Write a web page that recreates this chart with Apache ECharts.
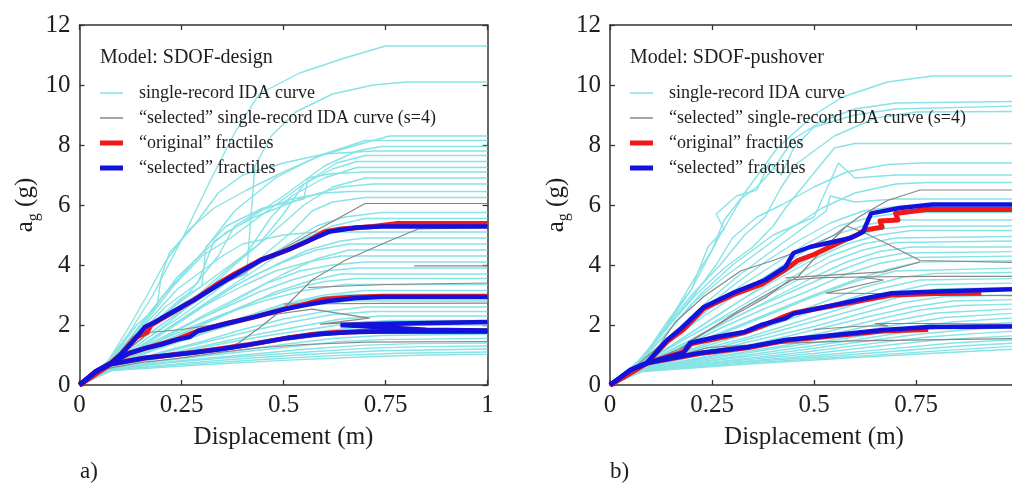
<!DOCTYPE html>
<html>
<head>
<meta charset="utf-8">
<script src="https://cdn.jsdelivr.net/npm/echarts@6/dist/echarts.min.js"></script>
<style>
html,body{margin:0;padding:0;background:#fff;}
#chart{width:1012px;height:486px;}
</style>
</head>
<body>
<div id="chart"></div>
<script>
// tick values of both panels
var xTicks = [0, 0.25, 0.5, 0.75, 1];
var yTicks = [0, 2, 4, 6, 8, 10, 12];

var panelTitles = ['Model: SDOF-design', 'Model: SDOF-pushover'];
var panelTags = ['a)', 'b)'];
var legendNames = ['single-record IDA curve', '\u201Cselected\u201D single-record IDA curve (s=4)', '\u201Coriginal\u201D fractiles', '\u201Cselected\u201D fractiles'];

// a) SDOF-design : single-record IDA curves [displacement m, ag g]
var leftIda = [
 [[0,0],[0.07,0.8],[0.12,1.7],[0.18,3.0],[0.26,5.1],[0.32,6.8],[0.38,8.4],[0.44,9.7],[0.54,10.4],[0.65,10.9],[0.75,11.3],[1,11.3]],
 [[0,0],[0.08,0.8],[0.15,1.7],[0.25,2.7],[0.33,3.3],[0.41,3.7],[0.42,5.6],[0.43,7.3],[0.47,8.3],[0.53,9.1],[0.62,9.7],[0.72,10.0],[0.8,10.1],[1,10.1]],
 [[0,0],[0.07,0.75],[0.12,1.5],[0.2,2.9],[0.3,4.4],[0.38,5.8],[0.48,6.9],[0.58,7.6],[0.68,8.0],[0.76,8.3],[1,8.3]],
 [[0,0],[0.07,0.8],[0.12,1.9],[0.17,3.1],[0.21,4.1],[0.27,5.2],[0.33,5.9],[0.41,6.5],[0.5,7.1],[0.6,7.7],[0.7,8.15],[1,8.15]],
 [[0,0],[0.08,0.8],[0.14,1.6],[0.21,2.6],[0.29,3.4],[0.33,4.8],[0.4,5.4],[0.5,6.3],[0.6,7.3],[0.68,7.8],[0.74,7.95],[1,7.95]],
 [[0,0],[0.08,0.9],[0.14,2.0],[0.19,2.6],[0.2,3.6],[0.22,4.4],[0.28,5.3],[0.34,6.4],[0.4,7.0],[0.5,7.4],[0.6,7.7],[0.72,7.8],[1,7.8]],
 [[0,0],[0.08,0.8],[0.15,1.9],[0.23,3.3],[0.3,4.3],[0.37,4.9],[0.45,5.7],[0.55,6.7],[0.63,7.4],[0.7,7.65],[1,7.65]],
 [[0,0],[0.07,0.7],[0.14,1.5],[0.2,2.3],[0.28,3.1],[0.36,3.9],[0.44,4.7],[0.5,5.7],[0.55,6.7],[0.62,7.2],[0.68,7.45],[1,7.45]],
 [[0,0],[0.08,0.75],[0.15,1.5],[0.25,2.5],[0.34,3.6],[0.41,4.4],[0.47,5.6],[0.52,6.3],[0.6,6.9],[0.68,7.25],[1,7.25]],
 [[0,0],[0.08,0.8],[0.16,1.8],[0.25,2.9],[0.3,3.3],[0.31,4.6],[0.36,5.3],[0.45,5.9],[0.55,6.2],[0.56,6.9],[0.62,7.05],[0.7,7.1],[1,7.1]],
 [[0,0],[0.07,0.65],[0.14,1.3],[0.22,2.1],[0.3,3.0],[0.38,4.0],[0.45,4.8],[0.55,6.0],[0.62,6.6],[0.7,6.9],[1,6.9]],
 [[0,0],[0.08,0.85],[0.14,1.8],[0.19,2.7],[0.24,3.6],[0.31,4.5],[0.36,5.1],[0.43,5.6],[0.54,6.2],[0.64,6.6],[0.72,6.7],[1,6.7]],
 [[0,0],[0.07,0.7],[0.13,1.4],[0.2,2.2],[0.27,3.1],[0.34,4.3],[0.38,5.3],[0.44,5.8],[0.52,6.2],[0.6,6.4],[0.66,6.45],[1,6.45]],
 [[0,0],[0.08,0.7],[0.16,1.5],[0.25,2.3],[0.35,3.3],[0.45,4.3],[0.52,5.1],[0.57,5.8],[0.62,6.1],[0.7,6.25],[1,6.25]],
 [[0,0],[0.07,0.65],[0.13,1.3],[0.2,2.0],[0.3,2.9],[0.4,3.8],[0.5,4.6],[0.58,5.3],[0.65,5.6],[0.74,5.75],[1,5.75]],
 [[0,0],[0.08,0.7],[0.16,1.4],[0.25,2.2],[0.35,3.1],[0.45,4.0],[0.54,4.8],[0.62,5.3],[0.7,5.55],[1,5.55]],
 [[0,0],[0.07,0.7],[0.12,1.4],[0.18,2.3],[0.24,3.2],[0.3,3.8],[0.35,4.3],[0.4,4.7],[0.5,5.0],[0.58,5.1],[1,5.1]],
 [[0,0],[0.08,0.7],[0.18,1.5],[0.28,2.4],[0.38,3.3],[0.48,4.0],[0.56,4.5],[0.64,4.8],[0.7,4.9],[1,4.9]],
 [[0,0],[0.07,0.65],[0.15,1.3],[0.24,2.1],[0.33,2.9],[0.42,3.6],[0.5,4.1],[0.58,4.5],[0.66,4.7],[1,4.7]],
 [[0,0],[0.08,0.7],[0.2,1.5],[0.3,2.3],[0.4,3.0],[0.5,3.7],[0.58,4.2],[0.66,4.5],[1,4.5]],
 [[0,0],[0.07,0.6],[0.14,1.2],[0.22,1.9],[0.3,2.6],[0.4,3.3],[0.48,3.8],[0.56,4.1],[0.64,4.3],[1,4.3]],
 [[0,0],[0.08,0.7],[0.18,1.4],[0.28,2.1],[0.38,2.8],[0.46,3.4],[0.54,3.8],[0.62,4.0],[0.7,4.1],[1,4.1]],
 [[0,0],[0.07,0.6],[0.16,1.3],[0.26,2.0],[0.36,2.6],[0.44,3.1],[0.52,3.5],[0.6,3.8],[0.68,3.9],[1,3.9]],
 [[0,0],[0.08,0.65],[0.2,1.4],[0.3,2.0],[0.4,2.6],[0.48,3.1],[0.56,3.45],[0.64,3.7],[1,3.7]],
 [[0,0],[0.07,0.6],[0.18,1.3],[0.28,1.9],[0.36,2.4],[0.44,2.85],[0.52,3.2],[0.6,3.45],[0.68,3.55],[1,3.55]],
 [[0,0],[0.08,0.65],[0.15,1.2],[0.25,1.8],[0.35,2.35],[0.45,2.8],[0.55,3.15],[0.65,3.35],[1,3.35]],
 [[0,0],[0.07,0.6],[0.2,1.3],[0.3,1.8],[0.4,2.25],[0.5,2.7],[0.6,3.0],[0.7,3.15],[1,3.15]],
 [[0,0],[0.08,0.6],[0.18,1.15],[0.28,1.6],[0.38,2.1],[0.48,2.55],[0.56,2.85],[0.64,3.0],[1,3.0]],
 [[0,0],[0.07,0.6],[0.16,1.1],[0.26,1.55],[0.36,1.95],[0.46,2.35],[0.56,2.65],[0.66,2.8],[1,2.8]],
 [[0,0],[0.08,0.6],[0.2,1.1],[0.3,1.45],[0.4,1.85],[0.5,2.2],[0.6,2.45],[0.7,2.6],[1,2.6]],
 [[0,0],[0.07,0.55],[0.18,1.0],[0.3,1.4],[0.42,1.8],[0.52,2.1],[0.62,2.35],[0.72,2.45],[1,2.45]],
 [[0,0],[0.08,0.6],[0.2,1.0],[0.32,1.35],[0.44,1.7],[0.54,1.95],[0.64,2.2],[0.74,2.3],[1,2.3]],
 [[0,0],[0.07,0.55],[0.2,0.95],[0.32,1.3],[0.44,1.6],[0.56,1.85],[0.66,2.05],[0.76,2.15],[1,2.15]],
 [[0,0],[0.08,0.6],[0.2,0.95],[0.34,1.25],[0.48,1.55],[0.6,1.8],[0.7,1.95],[0.8,2.0],[1,2.0]],
 [[0,0],[0.07,0.55],[0.2,0.9],[0.34,1.2],[0.48,1.45],[0.6,1.65],[0.72,1.8],[0.82,1.85],[1,1.85]],
 [[0,0],[0.08,0.55],[0.22,0.85],[0.36,1.1],[0.5,1.35],[0.62,1.55],[0.74,1.65],[1,1.7]],
 [[0,0],[0.07,0.5],[0.2,0.8],[0.36,1.05],[0.5,1.25],[0.64,1.45],[0.76,1.52],[1,1.55]],
 [[0,0],[0.08,0.55],[0.24,0.8],[0.4,1.0],[0.56,1.2],[0.7,1.33],[0.82,1.38],[1,1.4]],
 [[0,0],[0.07,0.5],[0.22,0.75],[0.4,0.95],[0.56,1.1],[0.7,1.22],[0.84,1.28],[1,1.3]],
 [[0,0],[0.08,0.5],[0.25,0.72],[0.42,0.9],[0.6,1.05],[0.74,1.14],[1,1.2]],
 [[0,0],[0.07,0.48],[0.25,0.68],[0.45,0.85],[0.62,0.98],[0.78,1.06],[1,1.1]],
 [[0,0],[0.08,0.48],[0.28,0.66],[0.5,0.82],[0.7,0.94],[0.85,1.0],[1,1.02]]
];
// a) "selected" records (s=4), with their extra flat pieces
var leftSel = [
 [[0,0],[0.06,0.6],[0.1,1.1],[0.13,1.6],[0.2,2.25],[0.3,3.0],[0.4,3.7],[0.5,4.55],[0.6,5.3],[0.7,6.05],[1,6.05]],
 [[0,0],[0.07,0.6],[0.15,0.9],[0.25,1.05],[0.35,1.2],[0.39,1.4],[0.45,2.0],[0.5,2.55],[0.57,3.5],[0.65,4.15],[0.75,4.75],[0.83,5.2],[1,5.25]],
 [[0,0],[0.07,0.65],[0.12,1.2],[0.17,1.75],[0.25,1.85],[0.35,2.05],[0.45,2.3],[0.57,2.53],[0.71,2.23],[0.59,2.03],[0.7,2.1],[1,2.15]],
 [[0,0],[0.07,0.55],[0.15,0.75],[0.25,0.9],[0.35,1.1],[0.45,1.25],[0.55,1.35],[0.7,1.43],[1,1.45]],
 [[0.56,3.25],[0.75,3.35],[1,3.4]],
 [[0.82,3.97],[1,3.97]],
 [[0.5,2.7],[0.75,2.72],[1,2.73]]
];
// a) fractiles 16/50/84%
var leftOrig = [
 [[0,0],[0.04,0.45],[0.077,0.73],[0.1,1.0],[0.127,1.4],[0.14,1.6],[0.165,1.75],[0.175,2.0],[0.2,2.2],[0.28,2.83],[0.34,3.38],[0.38,3.7],[0.445,4.17],[0.51,4.5],[0.56,4.8],[0.6,5.1],[0.64,5.2],[0.72,5.28],[0.78,5.38],[1,5.38]],
 [[0,0],[0.077,0.73],[0.12,1.05],[0.16,1.22],[0.24,1.52],[0.29,1.8],[0.36,2.05],[0.43,2.27],[0.5,2.52],[0.56,2.72],[0.6,2.86],[0.66,2.92],[0.74,2.96],[1,2.96]],
 [[0,0],[0.077,0.7],[0.16,0.9],[0.28,1.08],[0.41,1.33],[0.51,1.57],[0.57,1.68],[0.62,1.74],[0.7,1.79],[1,1.8]]
];
var leftFrac = [
 [[0,0],[0.04,0.45],[0.077,0.73],[0.1,1.0],[0.127,1.4],[0.14,1.6],[0.16,1.93],[0.185,2.1],[0.23,2.45],[0.28,2.83],[0.36,3.5],[0.445,4.17],[0.51,4.5],[0.56,4.8],[0.614,5.12],[0.68,5.25],[0.74,5.28],[1,5.28]],
 [[0,0],[0.04,0.45],[0.077,0.73],[0.12,1.05],[0.16,1.22],[0.2,1.35],[0.24,1.52],[0.27,1.6],[0.29,1.8],[0.36,2.05],[0.43,2.27],[0.5,2.52],[0.56,2.68],[0.61,2.8],[0.68,2.9],[0.74,2.93],[1,2.93]],
 [[0,0],[0.04,0.45],[0.077,0.7],[0.16,0.9],[0.28,1.08],[0.35,1.2],[0.41,1.33],[0.51,1.57],[0.59,1.7],[0.66,1.76],[0.74,1.78],[1,1.78]],
 [[0.64,2.0],[0.8,2.05],[1,2.1]],
 [[0.64,2.0],[0.85,1.84],[1,1.82]]
];

// b) SDOF-pushover
var rightIda = [
 [[0,0],[0.07,0.8],[0.12,1.6],[0.2,3.2],[0.27,5.0],[0.33,6.4],[0.41,7.9],[0.5,9.0],[0.57,9.6],[0.68,10.1],[0.79,10.3],[1,10.3]],
 [[0,0],[0.08,0.9],[0.14,2.0],[0.2,3.4],[0.25,4.5],[0.28,5.5],[0.32,6.2],[0.36,6.6],[0.4,7.2],[0.45,8.2],[0.52,8.8],[0.6,9.2],[0.7,9.4],[1,9.45]],
 [[0,0],[0.08,0.9],[0.14,2.1],[0.2,3.2],[0.24,4.6],[0.28,5.2],[0.26,5.7],[0.31,6.3],[0.36,6.5],[0.39,7.4],[0.42,7.0],[0.45,7.9],[0.5,8.6],[0.6,9.0],[0.7,9.2],[1,9.3]],
 [[0,0],[0.07,0.8],[0.13,1.8],[0.2,3.0],[0.27,4.0],[0.33,5.0],[0.38,5.6],[0.42,6.6],[0.46,7.4],[0.55,8.3],[0.65,8.9],[0.75,9.1],[1,9.12]],
 [[0,0],[0.08,0.9],[0.14,1.9],[0.21,3.0],[0.28,3.9],[0.35,4.6],[0.4,5.3],[0.43,5.9],[0.55,7.9],[0.6,8.05],[1,8.05]],
 [[0,0],[0.07,0.8],[0.14,1.9],[0.2,2.9],[0.26,4.0],[0.3,4.9],[0.36,5.6],[0.42,6.0],[0.5,6.6],[0.58,7.1],[0.68,7.35],[0.76,7.4],[1,7.4]],
 [[0,0],[0.08,0.85],[0.15,1.9],[0.22,3.0],[0.3,4.0],[0.4,5.0],[0.5,5.6],[0.52,6.2],[0.56,7.4],[0.6,6.9],[0.7,7.0],[1,7.0]],
 [[0,0],[0.07,0.75],[0.13,1.6],[0.2,2.7],[0.28,3.6],[0.36,4.4],[0.44,5.2],[0.52,5.9],[0.6,6.4],[0.7,6.7],[0.78,6.75],[1,6.75]],
 [[0,0],[0.08,0.8],[0.16,1.8],[0.24,2.8],[0.32,3.7],[0.4,4.5],[0.48,5.3],[0.53,5.8],[0.54,6.3],[0.6,6.1],[0.7,6.2],[1,6.2]],
 [[0,0],[0.07,0.7],[0.14,1.5],[0.22,2.4],[0.3,3.3],[0.38,4.1],[0.46,4.8],[0.54,5.4],[0.62,5.8],[0.7,5.95],[1,5.95]],
 [[0,0],[0.08,0.75],[0.16,1.6],[0.24,2.5],[0.32,3.3],[0.4,4.0],[0.48,4.7],[0.56,5.3],[0.64,5.6],[0.72,5.75],[1,5.75]],
 [[0,0],[0.07,0.7],[0.15,1.5],[0.23,2.3],[0.31,3.0],[0.39,3.7],[0.47,4.4],[0.55,5.0],[0.63,5.35],[0.7,5.5],[1,5.5]],
 [[0,0],[0.08,0.7],[0.17,1.5],[0.26,2.3],[0.34,3.0],[0.42,3.7],[0.5,4.3],[0.58,4.9],[0.66,5.2],[0.74,5.3],[1,5.3]],
 [[0,0],[0.07,0.65],[0.15,1.3],[0.24,2.1],[0.33,2.9],[0.42,3.6],[0.5,4.2],[0.58,4.7],[0.66,5.0],[0.74,5.15],[1,5.15]],
 [[0,0],[0.08,0.7],[0.18,1.5],[0.28,2.3],[0.38,3.1],[0.46,3.7],[0.54,4.3],[0.62,4.7],[0.7,4.9],[1,4.95]],
 [[0,0],[0.07,0.65],[0.16,1.35],[0.26,2.1],[0.36,2.8],[0.46,3.5],[0.54,4.1],[0.62,4.5],[0.7,4.75],[1,4.8]],
 [[0,0],[0.08,0.7],[0.2,1.5],[0.3,2.2],[0.4,2.9],[0.5,3.6],[0.58,4.1],[0.66,4.45],[0.74,4.6],[1,4.6]],
 [[0,0],[0.07,0.6],[0.16,1.25],[0.26,1.95],[0.36,2.6],[0.46,3.2],[0.56,3.8],[0.64,4.2],[0.72,4.4],[1,4.45]],
 [[0,0],[0.08,0.65],[0.18,1.3],[0.28,1.95],[0.38,2.55],[0.48,3.1],[0.58,3.7],[0.66,4.05],[0.74,4.25],[1,4.3]],
 [[0,0],[0.07,0.6],[0.18,1.25],[0.3,1.9],[0.4,2.45],[0.5,3.0],[0.6,3.5],[0.68,3.85],[0.76,4.1],[1,4.15]],
 [[0,0],[0.08,0.65],[0.2,1.3],[0.3,1.85],[0.4,2.4],[0.5,2.95],[0.6,3.45],[0.7,3.8],[1,3.9]],
 [[0,0],[0.07,0.6],[0.2,1.2],[0.32,1.75],[0.42,2.25],[0.52,2.75],[0.62,3.25],[0.72,3.6],[0.8,3.72],[1,3.75]],
 [[0,0],[0.08,0.6],[0.2,1.15],[0.32,1.65],[0.44,2.2],[0.56,2.75],[0.66,3.2],[0.76,3.5],[1,3.55]],
 [[0,0],[0.07,0.55],[0.2,1.1],[0.34,1.6],[0.46,2.1],[0.58,2.6],[0.68,3.05],[0.78,3.35],[1,3.4]],
 [[0,0],[0.08,0.6],[0.22,1.1],[0.36,1.6],[0.48,2.05],[0.6,2.5],[0.7,2.9],[0.8,3.2],[1,3.25]],
 [[0,0],[0.07,0.55],[0.22,1.05],[0.36,1.5],[0.5,1.95],[0.62,2.4],[0.72,2.75],[0.82,2.95],[1,3.0]],
 [[0,0],[0.08,0.55],[0.22,1.0],[0.38,1.45],[0.52,1.9],[0.64,2.3],[0.74,2.6],[0.84,2.8],[1,2.85]],
 [[0,0],[0.07,0.5],[0.24,0.95],[0.4,1.4],[0.54,1.8],[0.66,2.2],[0.76,2.5],[0.86,2.65],[1,2.7]],
 [[0,0],[0.08,0.55],[0.24,0.95],[0.4,1.35],[0.56,1.75],[0.68,2.1],[0.8,2.4],[1,2.55]],
 [[0,0],[0.07,0.5],[0.24,0.9],[0.42,1.3],[0.58,1.7],[0.7,2.0],[0.82,2.25],[1,2.4]],
 [[0,0],[0.08,0.5],[0.25,0.88],[0.42,1.25],[0.6,1.6],[0.72,1.9],[0.84,2.1],[1,2.25]],
 [[0,0],[0.07,0.5],[0.26,0.85],[0.44,1.2],[0.6,1.5],[0.74,1.8],[0.86,1.98],[1,2.1]],
 [[0,0],[0.08,0.5],[0.26,0.82],[0.46,1.15],[0.62,1.45],[0.76,1.7],[0.88,1.85],[1,1.95]],
 [[0,0],[0.07,0.48],[0.28,0.8],[0.48,1.1],[0.64,1.38],[0.78,1.6],[0.9,1.72],[1,1.8]],
 [[0,0],[0.08,0.48],[0.28,0.78],[0.5,1.05],[0.66,1.3],[0.8,1.5],[1,1.65]],
 [[0,0],[0.07,0.46],[0.3,0.76],[0.52,1.0],[0.7,1.22],[0.84,1.4],[1,1.52]],
 [[0,0],[0.08,0.46],[0.3,0.74],[0.54,0.96],[0.72,1.15],[0.86,1.3],[1,1.4]],
 [[0,0],[0.07,0.45],[0.32,0.72],[0.56,0.92],[0.74,1.08],[0.9,1.22],[1,1.3]],
 [[0,0],[0.08,0.45],[0.34,0.7],[0.58,0.9],[0.78,1.05],[1,1.2]]
];
var rightSel = [
 [[0,0],[0.07,0.7],[0.12,1.3],[0.16,2.1],[0.23,2.95],[0.32,3.8],[0.4,4.15],[0.47,4.5],[0.55,5.0],[0.61,5.6],[0.68,6.15],[0.76,6.5],[1,6.5]],
 [[0,0],[0.08,0.7],[0.17,1.2],[0.25,1.9],[0.33,2.6],[0.42,3.3],[0.46,3.6],[0.52,4.5],[0.58,5.3],[0.62,5.1],[0.68,4.7],[0.76,4.15],[1,4.08]],
 [[0,0],[0.08,0.65],[0.16,1.0],[0.2,1.5],[0.3,2.3],[0.38,2.9],[0.44,3.5],[0.52,3.58],[0.61,3.6],[0.67,3.5],[0.53,3.06],[0.65,3.05],[0.8,3.0],[1,2.98]],
 [[0,0],[0.08,0.6],[0.16,0.95],[0.24,1.25],[0.4,1.38],[0.6,1.47],[1,1.55]],
 [[0.43,3.57],[0.67,3.77],[0.76,4.1]],
 [[0.61,3.6],[0.8,3.62],[1,3.62]],
 [[0.5,1.85],[0.6,1.95],[0.68,1.98],[0.65,2.05],[0.8,2.05],[1,2.02]]
];
var rightOrig = [
 [[0,0],[0.09,0.73],[0.14,1.45],[0.18,1.85],[0.23,2.55],[0.3,3.0],[0.37,3.35],[0.43,3.85],[0.46,4.15],[0.5,4.35],[0.57,4.8],[0.605,5.0],[0.625,5.17],[0.667,5.26],[0.662,5.47],[0.706,5.5],[0.7,5.72],[0.776,5.85],[1,5.85]],
 [[0,0],[0.09,0.73],[0.18,1.1],[0.2,1.38],[0.26,1.55],[0.33,1.75],[0.37,1.95],[0.43,2.3],[0.45,2.4],[0.55,2.65],[0.69,3.0],[0.8,3.05],[0.91,3.07]],
 [[0,0],[0.09,0.73],[0.22,1.05],[0.34,1.25],[0.43,1.48],[0.55,1.64],[0.67,1.8],[0.78,1.85]]
];
var rightFrac = [
 [[0,0],[0.05,0.5],[0.09,0.73],[0.14,1.5],[0.17,1.83],[0.23,2.6],[0.3,3.06],[0.38,3.5],[0.43,3.94],[0.45,4.4],[0.49,4.6],[0.59,4.9],[0.62,5.1],[0.64,5.72],[0.71,5.9],[0.79,6.02],[1,6.02]],
 [[0,0],[0.05,0.5],[0.09,0.73],[0.18,1.07],[0.196,1.4],[0.26,1.6],[0.33,1.77],[0.37,2.0],[0.43,2.22],[0.45,2.38],[0.55,2.67],[0.63,2.9],[0.69,3.06],[0.8,3.12],[1,3.2]],
 [[0,0],[0.05,0.5],[0.09,0.73],[0.22,1.07],[0.34,1.27],[0.43,1.5],[0.55,1.67],[0.67,1.83],[0.78,1.93],[1,1.95]]
];

var serif = '"Liberation Serif", "Times New Roman", serif';
var ink = '#1e1e1e';
var cyan = '#86e3e6', gray = '#878787', red = '#f01818', blue = '#1212dc';

var myChart = echarts.init(document.getElementById('chart'), null, {renderer: 'canvas'});

// deep copy + overwrite
function ext(base, extra){
	return echarts.util.merge(echarts.util.clone(base), extra, true);
}

// second panel runs past the right edge of the page, as in the figure
var grids = [
	{left: 79.5, top: 25, width: 408, height: 360, outerBoundsMode: 'none', containLabel: false},
	{left: 610, top: 25, width: 408, height: 360, outerBoundsMode: 'none', containLabel: false}
];

var xAxes = [], yAxes = [];
grids.forEach(function(g, i){
	var base = {
		type: 'value', gridIndex: i,
		min: xTicks[0], max: xTicks[xTicks.length-1], interval: xTicks[1]-xTicks[0],
		splitLine: {show: false},
		axisLine: {show: true, onZero: false, lineStyle: {color: '#333', width: 1.5}},
		axisTick: {show: true, inside: true, length: 5, lineStyle: {color: '#333', width: 1.3}}
	};
	xAxes.push(ext(base, {
		position: 'bottom',
		axisLabel: {fontFamily: serif, fontSize: 25, color: ink, margin: 8},
		name: 'Displacement (m)', nameLocation: 'middle', nameGap: 40,
		nameTextStyle: {fontFamily: serif, fontSize: 25, color: ink}
	}));
	xAxes.push(ext(base, {position: 'top', axisLabel: {show: false}}));

	var ybase = ext(base, {
		min: yTicks[0], max: yTicks[yTicks.length-1], interval: yTicks[1]-yTicks[0]
	});
	yAxes.push(ext(ybase, {
		position: 'left',
		axisLabel: {fontFamily: serif, fontSize: 25, color: ink, margin: 9},
		name: '{a|a}{s|g}{a| (g)}', nameLocation: 'middle', nameGap: 36, nameRotate: 90,
		nameTextStyle: {
			color: ink,
			rich: {
				a: {fontFamily: serif, fontSize: 25, color: ink, lineHeight: 32},
				s: {fontFamily: serif, fontSize: 16, color: ink, lineHeight: 16, verticalAlign: 'bottom'}
			}
		}
	}));
	yAxes.push(ext(ybase, {position: 'right', axisLabel: {show: false}}));
});

// one line series per curve
var series = [];
function addCurves(list, name, color, width, panel){
	list.forEach(function(pts){
		series.push({
			type: 'line', name: name,
			xAxisIndex: panel*2, yAxisIndex: panel*2,
			data: pts, symbol: 'none', silent: true,
			lineStyle: {color: color, width: width, join: 'round'},
			itemStyle: {color: color}
		});
	});
}
addCurves(leftIda, legendNames[0], cyan, 1.4, 0);
addCurves(rightIda, legendNames[0], cyan, 1.4, 1);
addCurves(leftSel, legendNames[1], gray, 1.2, 0);
addCurves(rightSel, legendNames[1], gray, 1.2, 1);
addCurves(leftOrig, legendNames[2], red, 5, 0);
addCurves(rightOrig, legendNames[2], red, 5, 1);
addCurves(leftFrac, legendNames[3], blue, 4.5, 0);
addCurves(rightFrac, legendNames[3], blue, 4.5, 1);

// legend icons: the invisible tail keeps the gap between line and text
var thinIcon = 'path://M0,0H23V1.4H0Z M34,0L34,1.4';
var thickIcon = 'path://M0,0H23V5H0Z M34,0L34,5';
function legendFor(x){
	return {
		left: x, top: 84, orient: 'vertical', padding: 0,
		itemWidth: 34, itemHeight: 8, itemGap: 7,
		selectedMode: false,
		itemStyle: {borderWidth: 0},
		textStyle: {fontFamily: serif, fontSize: 18, color: ink},
		data: [
			{name: legendNames[0], icon: thinIcon},
			{name: legendNames[1], icon: thinIcon},
			{name: legendNames[2], icon: thickIcon},
			{name: legendNames[3], icon: thickIcon}
		]
	};
}

var option = {
	animation: false,
	backgroundColor: '#fff',
	title: [
		{text: panelTitles[0], left: 100, top: 48, padding: 0, textStyle: {fontFamily: serif, fontSize: 20, fontWeight: 'normal', color: ink}},
		{text: panelTitles[1], left: 630, top: 48, padding: 0, textStyle: {fontFamily: serif, fontSize: 20, fontWeight: 'normal', color: ink}},
		{text: panelTags[0], left: 80, top: 460, padding: 0, textStyle: {fontFamily: serif, fontSize: 23, fontWeight: 'normal', color: ink}},
		{text: panelTags[1], left: 610, top: 460, padding: 0, textStyle: {fontFamily: serif, fontSize: 23, fontWeight: 'normal', color: ink}}
	],
	legend: [legendFor(100), legendFor(630)],
	grid: grids,
	xAxis: xAxes,
	yAxis: yAxes,
	series: series
};
myChart.setOption(option);
</script>
</body>
</html>
